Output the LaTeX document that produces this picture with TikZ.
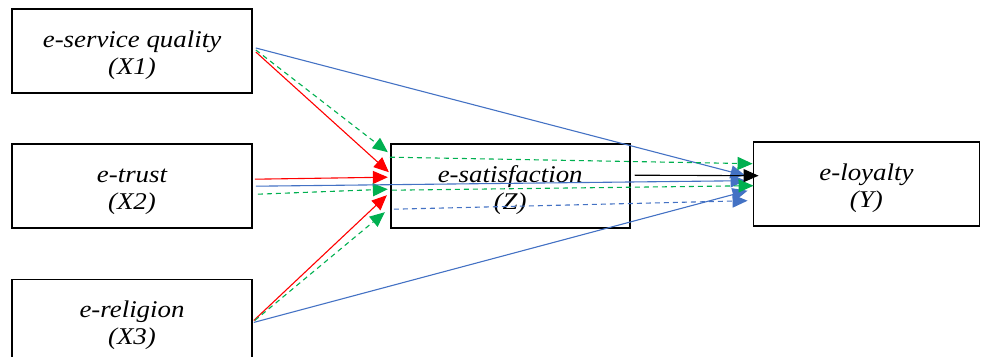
\documentclass[tikz,border=0pt]{standalone}
\usepackage{fontspec}
\setmainfont{Liberation Serif}[FakeStretch=1.12]
\usepackage{tikz}
\usetikzlibrary{
  arrows.meta,
  positioning
}
\definecolor{pathred}{RGB}{255,0,0}
\definecolor{pathgreen}{RGB}{0,176,80}
\definecolor{pathblue}{RGB}{68,114,196}
\tikzset{
  varbox/.style={draw, line width=1.7pt, fill=white,
    minimum width=240pt, minimum height=84pt,
    text height=51pt, text depth=4pt,
    align=center, font=\fontsize{24}{27}\selectfont\itshape},
  arr/.style={-{Triangle[length=15pt, width=13pt]}, line width=1.1pt},
  darr/.style={-{Triangle[length=15pt, width=13pt]}, line width=1.1pt,
    dash pattern=on 5pt off 4pt},
}

\begin{document}
\begin{tikzpicture}[x=1pt, y=1pt, node distance=49pt and 137pt]
  \useasboundingbox (0,0) rectangle (987,356);

  % exogenous variables
  \node[varbox] (x1) at (132,305) {e-service quality\\(X1)};
  \node[varbox, below=of x1] (x2) {e-trust\\(X2)};
  \node[varbox, below=50pt of x2] (x3) {e-religion\\(X3)};
  % mediator and outcome
  \node[varbox, minimum width=239pt, right=of x2] (z) {e-satisfaction\\(Z)};
  \node[varbox, minimum width=226pt, right=122pt of z, yshift=1.5pt] (y) {e-loyalty\\(Y)};

  % paths into Z
  \draw[arr, pathred] ([xshift=3pt, yshift=-1pt]x1.east) -- ([xshift=-1pt, yshift=13.5pt]z.west);
  \draw[darr, pathgreen] ([xshift=3pt, yshift=1pt]x1.east) -- ([xshift=-2pt, yshift=33.5pt]z.west);
  \draw[arr, pathred] ([xshift=2pt, yshift=6.5pt]x2.east) -- ([xshift=-2pt, yshift=8.5pt]z.west);
  \draw[darr, pathgreen] ([xshift=5pt, yshift=-8.5pt]x2.east) -- ([xshift=-2pt, yshift=-3.5pt]z.west);
  \draw[arr, pathred] ([xshift=1pt, yshift=1pt]x3.east) -- ([xshift=-3pt, yshift=-9.5pt]z.west);
  \draw[darr, pathgreen] ([xshift=2pt, yshift=1pt]x3.east) -- ([xshift=-5pt, yshift=-26.5pt]z.west);

  % direct paths into Y
  \draw[arr, pathblue] ([xshift=3pt, yshift=3pt]x1.east) -- ([xshift=-7pt, yshift=8.5pt]y.west);
  \draw[arr, pathblue] ([xshift=3pt, yshift=-0.5pt]x2.east) -- ([xshift=-7pt, yshift=3.5pt]y.west);
  \draw[arr, pathblue] ([xshift=1pt, yshift=-1pt]x3.east) -- ([xshift=-5pt, yshift=-6.5pt]y.west);

  % paths from Z to Y
  \draw[darr, pathgreen] ([yshift=28.5pt]z.west) -- ([yshift=20.5pt]y.west);
  \draw[darr, pathgreen] ([xshift=2pt, yshift=-4.5pt]z.west) -- ([xshift=1pt, yshift=-1.5pt]y.west);
  \draw[darr, pathblue] ([xshift=4pt, yshift=-23.5pt]z.west) -- ([xshift=-5pt, yshift=-16.5pt]y.west);
  \draw[arr, black] ([xshift=4pt, yshift=10.5pt]z.east) -- ([xshift=6pt, yshift=8.5pt]y.west);
\end{tikzpicture}
\end{document}
